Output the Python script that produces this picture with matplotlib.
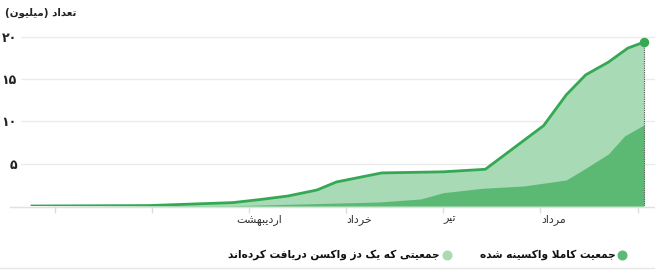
import matplotlib
matplotlib.use("Agg")
import matplotlib.pyplot as plt
from matplotlib.lines import Line2D

plt.rcParams['font.family'] = ['DejaVu Sans']

# ---------------- data ----------------
one_dose_days = [0, 36, 62, 71, 79, 88, 94, 108, 127, 140, 158, 165, 171, 178, 184, 189]
one_dose = [0, 0.05, 0.4, 0.79, 1.18, 1.89, 2.84, 3.91, 4.04, 4.34, 9.5, 13.14, 15.5, 17.0, 18.66, 19.37]

full_days = [0, 62, 67, 107, 120, 127, 139, 152, 165, 171, 178, 183, 189]
full = [0, 0.05, 0.08, 0.47, 0.83, 1.57, 2.09, 2.37, 3.08, 4.46, 6.15, 8.28, 9.59]

tick_marks = [7, 37, 67, 97, 127, 157, 187]
month_pos = [70, 101, 129, 161]
month_labels = ["اردیبهشت", "خرداد", "تیر", "مرداد"]
y_ticks = [5, 10, 15, 20]
y_labels = ["۵", "۱۰", "۱۵", "۲۰"]
title = "تعداد (میلیون)"
legend_one = "جمعیتی که یک دز واکسن دریافت کرده‌اند"
legend_full = "جمعیت کاملا واکسینه شده"

# ------------- simple Arabic/Persian shaping -------------
FORMS = {
    '\u0627': ('\uFE8D', '\uFE8E', None, None),
    '\u0628': ('\uFE8F', '\uFE90', '\uFE91', '\uFE92'),
    '\u062A': ('\uFE95', '\uFE96', '\uFE97', '\uFE98'),
    '\u062C': ('\uFE9D', '\uFE9E', '\uFE9F', '\uFEA0'),
    '\u062E': ('\uFEA5', '\uFEA6', '\uFEA7', '\uFEA8'),
    '\u062F': ('\uFEA9', '\uFEAA', None, None),
    '\u0631': ('\uFEAD', '\uFEAE', None, None),
    '\u0632': ('\uFEAF', '\uFEB0', None, None),
    '\u0633': ('\uFEB1', '\uFEB2', '\uFEB3', '\uFEB4'),
    '\u0634': ('\uFEB5', '\uFEB6', '\uFEB7', '\uFEB8'),
    '\u0639': ('\uFEC9', '\uFECA', '\uFECB', '\uFECC'),
    '\u0641': ('\uFED1', '\uFED2', '\uFED3', '\uFED4'),
    '\u06A9': ('\uFB8E', '\uFB8F', '\uFB90', '\uFB91'),
    '\u0644': ('\uFEDD', '\uFEDE', '\uFEDF', '\uFEE0'),
    '\u0645': ('\uFEE1', '\uFEE2', '\uFEE3', '\uFEE4'),
    '\u0646': ('\uFEE5', '\uFEE6', '\uFEE7', '\uFEE8'),
    '\u0647': ('\uFEE9', '\uFEEA', '\uFEEB', '\uFEEC'),
    '\u0648': ('\uFEED', '\uFEEE', None, None),
    '\u06CC': ('\uFBFC', '\uFBFD', '\uFBFE', '\uFBFF'),
}


def _dual(c):
    return c in FORMS and FORMS[c][2] is not None


def shape(s):
    n = len(s)
    res = []
    i = 0
    while i < n:
        c = s[i]
        prev = s[i - 1] if i > 0 else None
        nxt = s[i + 1] if i + 1 < n else None
        if c == '\u0644' and nxt == '\u0627':
            res.append('\uFEFC' if _dual(prev) else '\uFEFB')
            i += 2
            continue
        if c in FORMS:
            jp = _dual(prev)
            jn = _dual(c) and (nxt in FORMS)
            if jp and jn:
                res.append(FORMS[c][3])
            elif jp:
                res.append(FORMS[c][1])
            elif jn:
                res.append(FORMS[c][2])
            else:
                res.append(FORMS[c][0])
        elif c == '\u200c':
            pass
        else:
            res.append(c)
        i += 1
    swap = {'(': ')', ')': '('}
    return ''.join(swap.get(ch, ch) for ch in reversed(res))


# ---------------- figure ----------------
W, H = 655, 272
fig = plt.figure(figsize=(W / 100, H / 100), dpi=100)

px_per_day = (644 - 32) / 189.0
x_left = -(32 - 21) / px_per_day
x_right = 189 + (655 - 644) / px_per_day
ax = fig.add_axes([21 / W, (H - 206) / H, (655 - 21) / W, (206 - 30) / H])
ax.set_xlim(x_left, x_right)
ax.set_ylim(0, 20.8)

c_line = "#34a853"
c_light = "#a8dab5"
c_dark = "#5bb974"

for y in y_ticks:
    ax.axhline(y, color="#ebebeb", lw=1.0, zorder=0)

ax.fill_between(one_dose_days, 0, one_dose, color=c_light, lw=0, zorder=1)
ax.fill_between(full_days, 0, full, color=c_dark, lw=0, zorder=2)
ax.plot(one_dose_days, one_dose, color=c_line, lw=2.0, zorder=3, solid_joinstyle="round")
ax.plot([one_dose_days[-1], one_dose_days[-1]], [0, one_dose[-1]], color="#555555",
        lw=0.8, ls=(0, (1, 1)), zorder=4)
ax.plot([one_dose_days[-1]], [one_dose[-1]], 'o', color=c_line, ms=5.8, zorder=5)

for s in ax.spines.values():
    s.set_visible(False)

ax.set_yticks(y_ticks)
ax.set_yticklabels(y_labels, fontsize=9, fontweight="bold", color="#222222")
ax.tick_params(axis="y", length=0, pad=3)

ax.set_xticks(tick_marks, minor=True)
ax.tick_params(axis="x", which="minor", length=5, color="#dddddd", width=1)
ax.set_xticks(month_pos)
ax.set_xticklabels([shape(m) for m in month_labels], fontsize=8, color="#333333")
ax.tick_params(axis="x", which="major", length=0, pad=6)

# baseline
fig.add_artist(Line2D([10 / W, 1], [(H - 206.5) / H] * 2, color="#e0e0e0", lw=1, zorder=0))

# title
fig.text(5 / W, (H - 13) / H, shape(title), fontsize=7.4, fontweight="bold",
         ha="left", va="center", color="#222222")

# legend
ly = (H - 255) / H
fig.text(616 / W, ly, shape(legend_full), fontsize=7.6, fontweight="bold",
         ha="right", va="center", color="#111111")
fig.add_artist(Line2D([622 / W], [ly], marker='o', ms=6.2, color=c_dark, lw=0))
fig.text(440 / W, ly, shape(legend_one), fontsize=7.6, fontweight="bold",
         ha="right", va="center", color="#111111")
fig.add_artist(Line2D([447 / W], [ly], marker='o', ms=6.2, color=c_light, lw=0))
fig.add_artist(Line2D([0, 1], [(H - 268) / H] * 2, color="#e8e8e8", lw=1))

fig.savefig("out.png", dpi=100)
